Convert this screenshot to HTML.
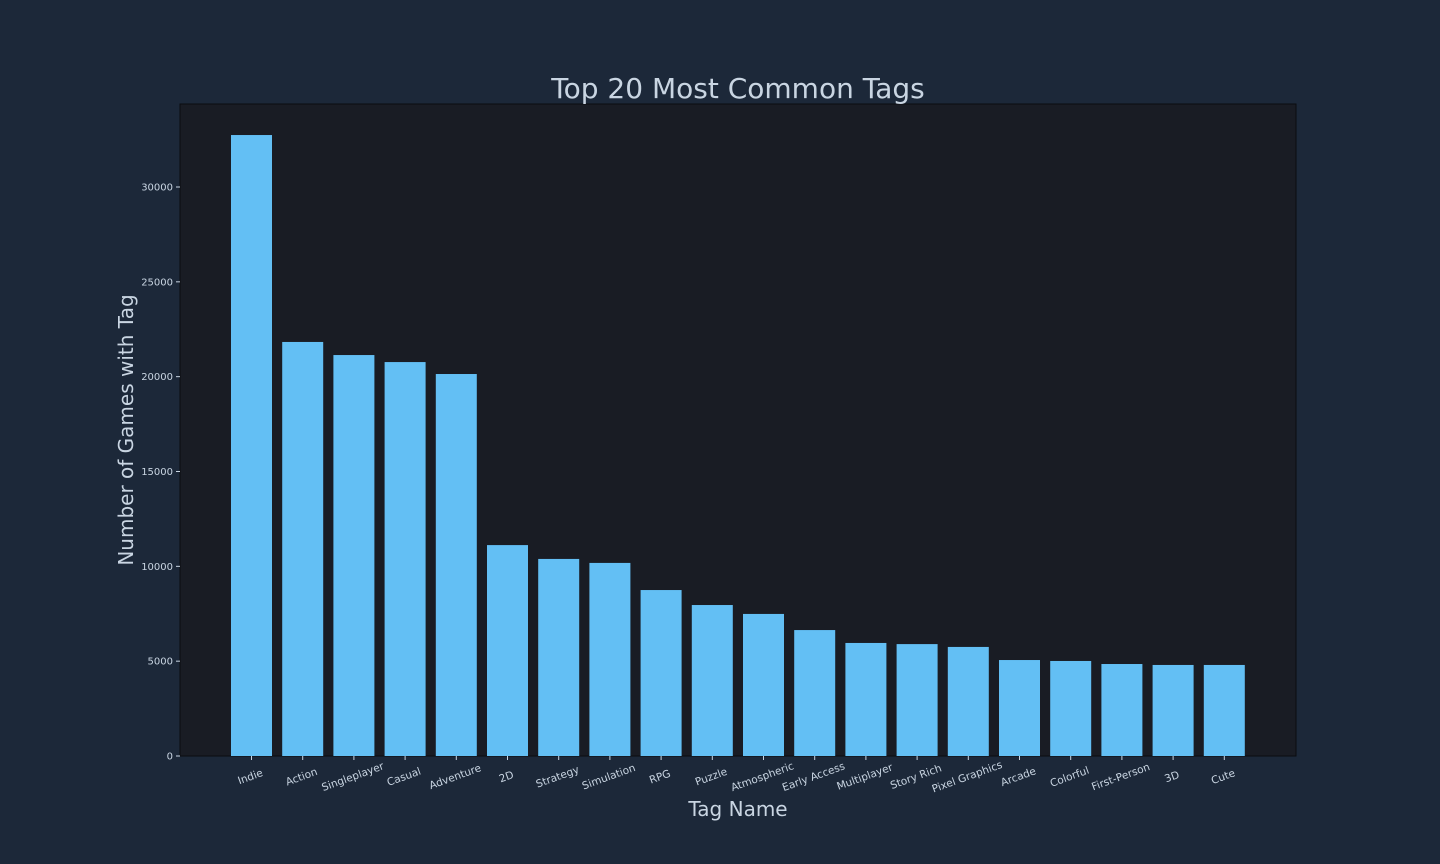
<!DOCTYPE html>
<html><head><meta charset="utf-8"><style>
html,body{margin:0;padding:0;background:#1c2839;}
svg{display:block;font-family:"DejaVu Sans","Liberation Sans",sans-serif;}
</style></head><body>
<svg id="chart" width="1440" height="864">
<rect x="0" y="0" width="1440" height="864" fill="#1c2839"/>
<rect x="180" y="104" width="1116" height="652" fill="#191c24" stroke="#0a0c10" stroke-width="1"/>
<text x="738" y="98" text-anchor="middle" font-size="28" fill="#c9d5e2">Top 20 Most Common Tags</text>
<text x="738" y="816" text-anchor="middle" font-size="20" fill="#c9d5e2">Tag Name</text>
<text transform="translate(133,430) rotate(-90)" text-anchor="middle" font-size="20" fill="#c9d5e2">Number of Games with Tag</text>
<g id="yticks"></g><g id="bars"></g><g id="xticks"></g>
</svg>
<script>
const categories=["Indie","Action","Singleplayer","Casual","Adventure","2D","Strategy","Simulation","RPG","Puzzle","Atmospheric","Early Access","Multiplayer","Story Rich","Pixel Graphics","Arcade","Colorful","First-Person","3D","Cute"];
const values=[32740,21830,21140,20770,20140,11120,10390,10180,8750,7960,7490,6640,5960,5900,5750,5060,5010,4850,4800,4800];
const yTicks=[0,5000,10000,15000,20000,25000,30000];
const NS="http://www.w3.org/2000/svg";
const y0=756, pxPer=(756-187)/30000;
function yScale(v){return y0-v*pxPer;}
function xScale(i){return 251.5+i*51.2;}
const bw=41;
const yg=document.getElementById('yticks'),bg=document.getElementById('bars'),xg=document.getElementById('xticks');
yTicks.forEach(t=>{
 const ln=document.createElementNS(NS,'line');
 ln.setAttribute('x1',176);ln.setAttribute('x2',180);ln.setAttribute('y1',yScale(t));ln.setAttribute('y2',yScale(t));ln.setAttribute('stroke','#c9d5e2');
 
 
 yg.appendChild(ln);
 const tx=document.createElementNS(NS,'text');
 tx.setAttribute('x',173);tx.setAttribute('y',yScale(t)+3.5);tx.setAttribute('text-anchor','end');tx.setAttribute('font-size','10');tx.setAttribute('fill','#c9d5e2');
 tx.textContent=t;
 
 
 yg.appendChild(tx);
});
categories.forEach((c,i)=>{
 const r=document.createElementNS(NS,'rect');
 const cx=xScale(i);
 r.setAttribute('x',cx-bw/2);r.setAttribute('width',bw);r.setAttribute('y',yScale(values[i]));r.setAttribute('height',y0-yScale(values[i]));r.setAttribute('fill','#63bff4');
 
 
 bg.appendChild(r);
 const ln=document.createElementNS(NS,'line');
 ln.setAttribute('x1',cx);ln.setAttribute('x2',cx);ln.setAttribute('y1',756);ln.setAttribute('y2',760);ln.setAttribute('stroke','#c9d5e2');
 
 
 xg.appendChild(ln);
 const tx=document.createElementNS(NS,'text');
 tx.setAttribute('transform','translate('+cx+',780) rotate(-20)');
 tx.setAttribute('text-anchor','middle');tx.setAttribute('font-size','10.5');tx.setAttribute('fill','#c9d5e2');
 tx.textContent=c;
 
 
 xg.appendChild(tx);
});
</script>
</body></html>
